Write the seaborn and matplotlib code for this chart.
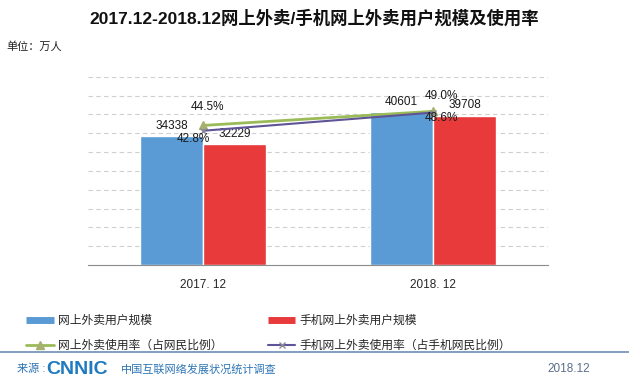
import pandas as pd
import seaborn as sns
import matplotlib.pyplot as plt
from matplotlib.lines import Line2D

# data
categories = ["2017. 12", "2018. 12"]
series_names = ["网上外卖用户规模", "手机网上外卖用户规模"]
users = [34338, 40601]          # 万人
mobile_users = [32229, 39708]   # 万人
rate_names = ["网上外卖使用率（占网民比例）", "手机网上外卖使用率（占手机网民比例）"]
rate = [44.5, 49.0]             # %
mobile_rate = [42.8, 48.6]      # %

BLUE = "#5B9BD5"
RED = "#E8393B"
GREEN = "#9BBB59"
PURPLE = "#5F5496"

sns.set_theme(style="white")
plt.rcParams["font.family"] = ["Liberation Sans", "Noto Sans CJK SC", "DejaVu Sans"]

df = pd.DataFrame({
    "category": categories * 2,
    "series": [series_names[0]] * 2 + [series_names[1]] * 2,
    "value": users + mobile_users,
})

fig = plt.figure(figsize=(6.29, 3.88), dpi=100)
ax = fig.add_axes([0.140, 0.317, 0.731, 0.485])

sns.barplot(data=df, x="category", y="value", hue="series", order=categories,
            hue_order=series_names, palette=[BLUE, RED], width=0.55,
            saturation=1, edgecolor="white", linewidth=1, ax=ax, legend=False)
for cont in ax.containers:
    ax.bar_label(cont, fmt="%d", padding=3, fontsize=8.5, color="#1a1a1a")

ax.set_ylim(0, 50000)
ax.set_xlim(-0.5, 1.5)
ax.set_yticks(range(5000, 50001, 5000))
ax.set_yticklabels([])
ax.tick_params(axis="y", length=0)
ax.tick_params(axis="x", length=0, labelsize=8.5, pad=10)
ax.yaxis.grid(True, linestyle=(0, (4, 3)), color="#CFCFCF", linewidth=0.8)
ax.set_axisbelow(True)
ax.set_xlabel("")
ax.set_ylabel("")
for s in ["top", "right", "left"]:
    ax.spines[s].set_visible(False)
ax.spines["bottom"].set_color("#8C8C8C")
ax.spines["bottom"].set_linewidth(0.8)

# rates on a hidden secondary axis
ax2 = ax.twinx()
xpos = list(range(len(categories)))
ax2.plot(xpos, rate, color=GREEN, lw=2, marker="^", ms=6,
         markerfacecolor="#A8B070", markeredgecolor="#A8B070")
ax2.plot(xpos, mobile_rate, color=PURPLE, lw=1.5, marker="x", ms=5,
         markeredgecolor="#8A8A9A")
ax2.set_ylim(0, 60)
ax2.set_yticks([])
for s in ax2.spines.values():
    s.set_visible(False)

offsets_rate = [(3, 13), (6, 11)]
offsets_mrate = [(-7, -6), (6, -4)]
for i, v in enumerate(rate):
    ax2.annotate(f"{v:.1f}%", (xpos[i], v), xytext=offsets_rate[i],
                 textcoords="offset points", ha="center", va="center",
                 fontsize=8.5, color="#1a1a1a")
for i, v in enumerate(mobile_rate):
    ax2.annotate(f"{v:.1f}%", (xpos[i], v), xytext=offsets_mrate[i],
                 textcoords="offset points", ha="center", va="center",
                 fontsize=8.5, color="#1a1a1a")

# titles
fig.text(0.5, 0.955, "2017.12-2018.12网上外卖/手机网上外卖用户规模及使用率",
         ha="center", va="center", fontsize=12.5, fontweight="bold", color="#111111")
fig.text(0.010, 0.880, "单位：万人", ha="left", va="center", fontsize=8, color="#222222")

# legend
handles = [
    Line2D([], [], color=BLUE, lw=5, solid_capstyle="butt"),
    Line2D([], [], color=GREEN, lw=2, marker="^", ms=6,
           markerfacecolor="#A8B070", markeredgecolor="#A8B070"),
    Line2D([], [], color=RED, lw=5, solid_capstyle="butt"),
    Line2D([], [], color=PURPLE, lw=1.5, marker="x", ms=5, markeredgecolor="#8A8A9A"),
]
labels = [series_names[0], rate_names[0], series_names[1], rate_names[1]]
fig.legend(handles, labels, loc="upper left", bbox_to_anchor=(0.042, 0.188),
           ncol=2, frameon=False, fontsize=8.5, handlelength=2.3,
           handletextpad=0.35, columnspacing=3.9, labelspacing=1.1,
           borderaxespad=0, borderpad=0)

# footer
fig.add_artist(Line2D([0.0, 1.0], [1 - 352 / 388, 1 - 352 / 388],
                      transform=fig.transFigure, color="#6E8DB5", lw=1.2))
fy = 1 - 369 / 388
fig.text(0.027, fy, "来源 :", ha="left", va="center", fontsize=8, color="#2E75B6")
fig.text(0.074, fy, "CNNIC", ha="left", va="center", fontsize=14,
         fontweight="bold", color="#1F7AC0")
fig.text(0.192, fy, "中国互联网络发展状况统计调查", ha="left", va="center",
         fontsize=8, color="#2E75B6")
fig.text(0.938, fy, "2018.12", ha="right", va="center", fontsize=8.5, color="#5A6E8A")

fig.savefig("out.png", dpi=100)
